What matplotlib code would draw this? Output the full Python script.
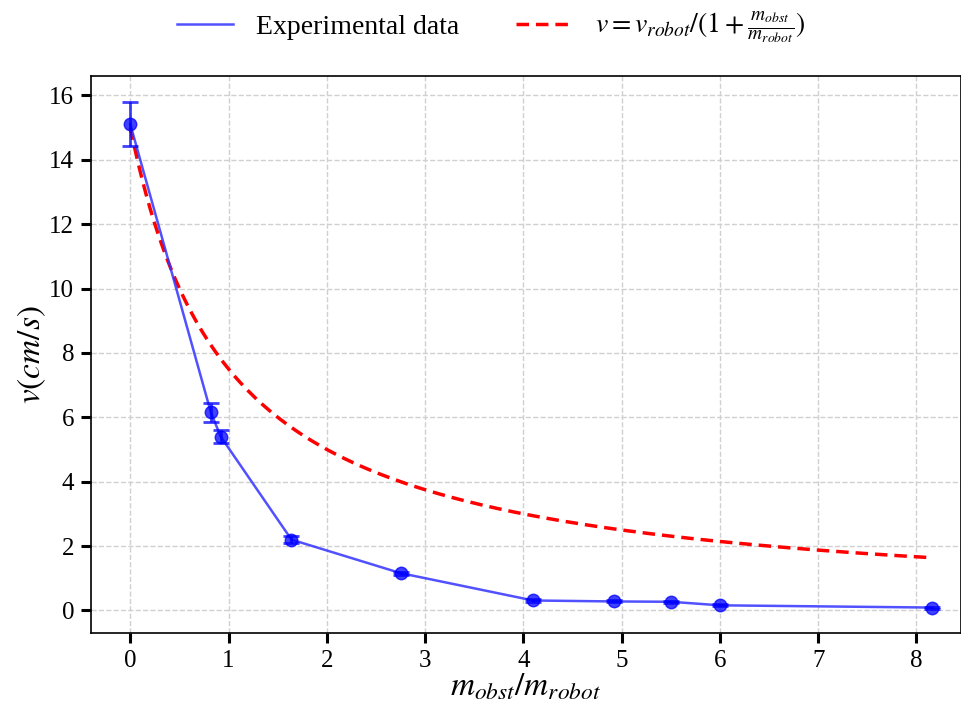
import numpy as np
import matplotlib
matplotlib.use("Agg")
import matplotlib.pyplot as plt

plt.rcParams['font.family'] = ['Liberation Serif', 'DejaVu Serif']
plt.rcParams['mathtext.fontset'] = 'stix'

# experimental data
mass_ratio = [0.0, 0.82, 0.92, 1.64, 2.75, 4.10, 4.92, 5.50, 6.00, 8.16]
velocity = [15.1, 6.15, 5.40, 2.20, 1.16, 0.31, 0.28, 0.27, 0.16, 0.09]
velocity_err = [0.68, 0.30, 0.19, 0.10, 0.05, 0.04, 0.03, 0.03, 0.03, 0.03]

# model parameter
v_robot = 15.0
x_model = np.linspace(0, 8.16, 200)
v_model = v_robot / (1 + x_model)

fig = plt.figure(figsize=(9.62, 7.13), dpi=100)
ax = fig.add_axes([0.0946, 0.1122, 0.904, 0.7812])

ax.grid(True, linestyle='--', color='#d0d0d0', linewidth=1.0)
ax.set_axisbelow(True)

line_exp, = ax.plot(mass_ratio, velocity, color=(0.2, 0.2, 1.0), alpha=0.85,
                    linewidth=1.8, label='Experimental data', zorder=3)
ax.errorbar(mass_ratio, velocity, yerr=velocity_err, fmt='o', color='blue',
            alpha=0.75, markersize=9, capsize=6, elinewidth=2, capthick=2,
            zorder=4)
ax.plot(x_model, v_model, color='red', linestyle='--', linewidth=2.5,
        dashes=(3.6, 2),
        label=r'$v = v_{robot}/(1+\frac{m_{obst}}{m_{robot}})$', zorder=2)

ax.set_xlim(-0.4, 8.45)
ax.set_ylim(-0.7, 16.6)
ax.set_xticks(range(0, 9))
ax.set_yticks(range(0, 17, 2))
ax.tick_params(axis='both', which='major', labelsize=18, length=7, width=2.2,
               direction='out', pad=5)
for s in ax.spines.values():
    s.set_linewidth(1.2)

ax.set_xlabel(r'$m_{obst}/m_{robot}$', fontsize=24, labelpad=0)
ax.set_ylabel(r'$v(cm/s)$', fontsize=24, labelpad=1)

ax.legend(loc='center', bbox_to_anchor=(0.46, 1.087), ncol=2,
          frameon=False, fontsize=20, handlelength=2.05, columnspacing=2.05,
          handletextpad=0.8)

fig.savefig('out.png', dpi=100)
